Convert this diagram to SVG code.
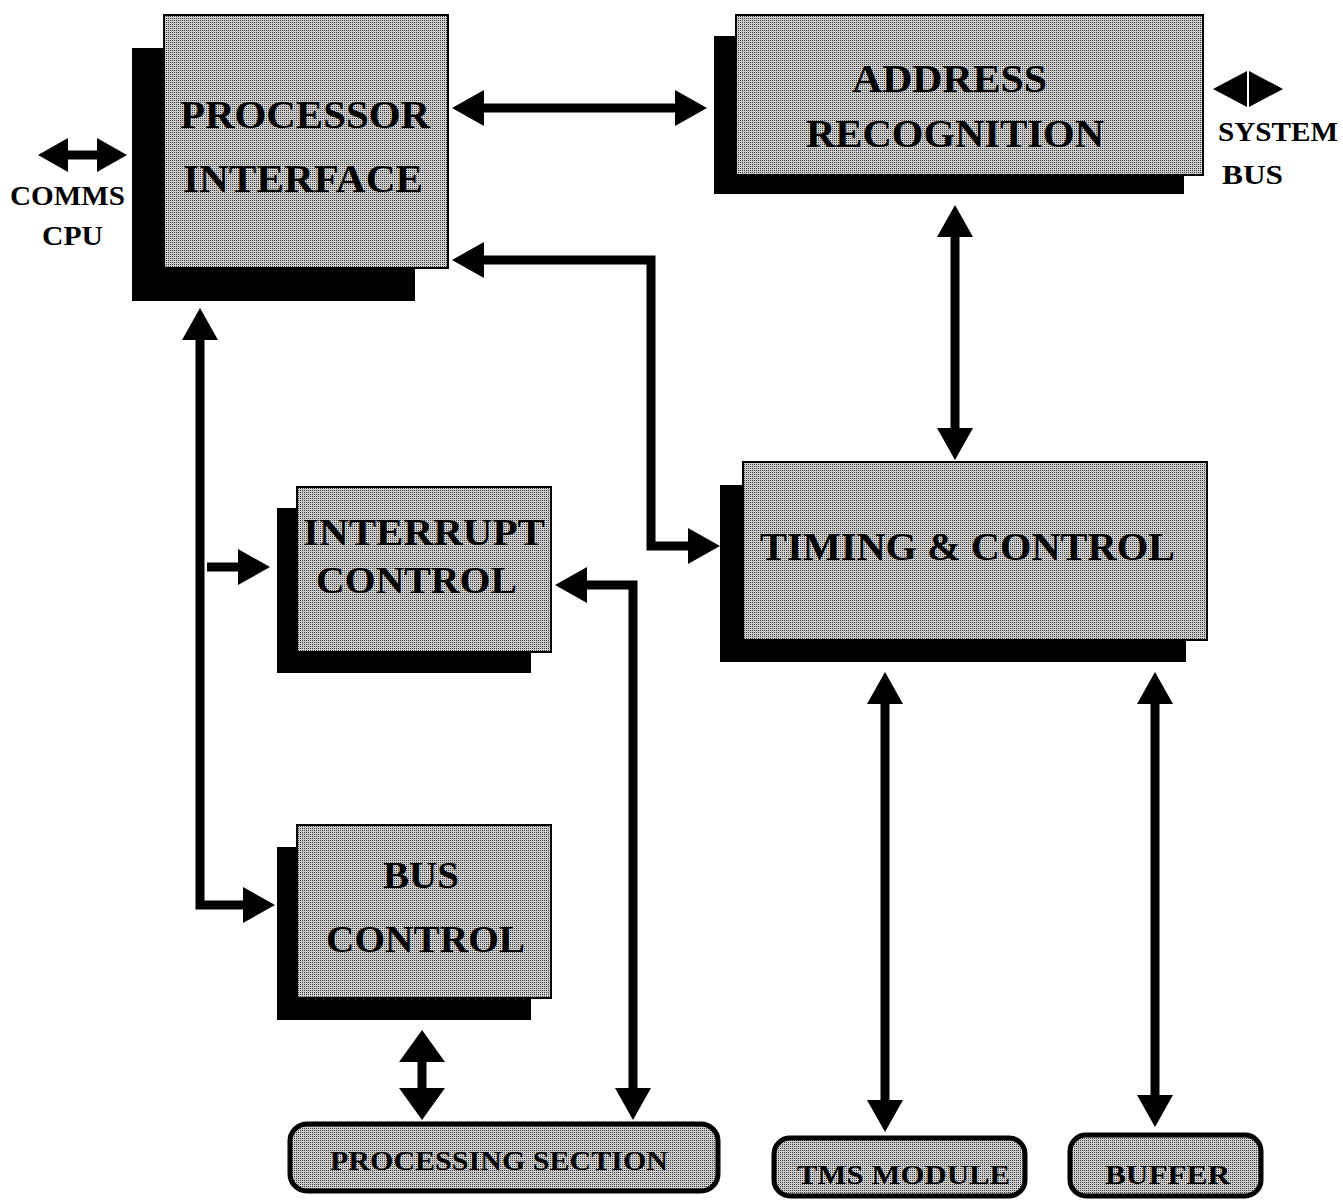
<svg xmlns="http://www.w3.org/2000/svg" width="1343" height="1202" viewBox="0 0 1343 1202">
<style>
.bg{fill:#ffffff}
.shadow{fill:#000000}
.box{fill:url(#dither);stroke:#000;stroke-width:2}
.rbox{fill:url(#dither);stroke:#000;stroke-width:5}
.t{font-family:"Liberation Serif","Times New Roman",serif;font-weight:bold;fill:#000}
.big{font-size:40px}
.mid{font-size:38px}
.sm{font-size:28px}
.xs{font-size:27px}
.con{fill:none;stroke:#000;stroke-width:9;stroke-linejoin:miter}
</style>
<defs>
<pattern id="dither" width="2" height="2" patternUnits="userSpaceOnUse">
<rect width="2" height="2" fill="#cccccc"/>
<rect width="1" height="1" fill="#404040"/>
</pattern>
<marker id="ah" markerUnits="userSpaceOnUse" viewBox="0 0 32 36" markerWidth="32" markerHeight="36" refX="2" refY="18" orient="auto-start-reverse">
<path d="M0,0 L32,18 L0,36 z" fill="#000"/>
</marker>
<marker id="ahs" markerUnits="userSpaceOnUse" viewBox="0 0 30 34" markerWidth="30" markerHeight="34" refX="2" refY="17" orient="auto-start-reverse">
<path d="M0,0 L30,17 L0,34 z" fill="#000"/>
</marker>
<marker id="ahb" markerUnits="userSpaceOnUse" viewBox="0 0 32 46" markerWidth="32" markerHeight="46" refX="2" refY="23" orient="auto-start-reverse">
<path d="M0,0 L32,23 L0,46 z" fill="#000"/>
</marker>
</defs>
<rect class="bg" width="1343" height="1202"/>

<g id="connectors">
<line class="con" x1="66" y1="155" x2="99" y2="155" stroke-width="6" marker-start="url(#ahs)" marker-end="url(#ahs)"/>
<line class="con" x1="482" y1="108" x2="677" y2="108" marker-start="url(#ah)" marker-end="url(#ah)"/>
<g id="sysbus-arrow">
<path d="M1213,89 L1247,71 L1247,107 z" fill="#000"/>
<path d="M1283,89 L1249,71 L1249,107 z" fill="#000"/>
</g>
<path class="con" d="M482,260 H651 V546 H690" marker-start="url(#ah)" marker-end="url(#ah)"/>
<line class="con" x1="955" y1="235" x2="955" y2="430" marker-start="url(#ah)" marker-end="url(#ah)"/>
<path class="con" d="M200,338 V905 H245" stroke-width="10" marker-start="url(#ah)" marker-end="url(#ah)"/>
<line class="con" x1="207" y1="567" x2="240" y2="567" marker-end="url(#ah)"/>
<path class="con" d="M585,585 H633 V1090" marker-start="url(#ah)" marker-end="url(#ah)"/>
<line class="con" x1="422" y1="1060" x2="422" y2="1090" stroke-width="14" marker-start="url(#ahb)" marker-end="url(#ahb)"/>
<line class="con" x1="885" y1="702" x2="885" y2="1102" marker-start="url(#ah)" marker-end="url(#ah)"/>
<line class="con" x1="1155" y1="702" x2="1155" y2="1097" marker-start="url(#ah)" marker-end="url(#ah)"/>
</g>

<g id="processor-interface">
<rect class="shadow" x="132" y="48" width="283" height="253"/>
<rect class="box" x="164" y="15" width="284" height="253"/>
<text class="t big" x="180" y="128" textLength="250" lengthAdjust="spacingAndGlyphs">PROCESSOR</text>
<text class="t big" x="183" y="192" textLength="240" lengthAdjust="spacingAndGlyphs">INTERFACE</text>
</g>

<g id="address-recognition">
<rect class="shadow" x="714" y="36" width="470" height="158"/>
<rect class="box" x="736" y="15" width="467" height="160"/>
<text class="t big" x="852" y="92" textLength="195" lengthAdjust="spacingAndGlyphs">ADDRESS</text>
<text class="t big" x="806" y="147" textLength="298" lengthAdjust="spacingAndGlyphs">RECOGNITION</text>
</g>

<g id="interrupt-control">
<rect class="shadow" x="277" y="508" width="254" height="165"/>
<rect class="box" x="297" y="487" width="254" height="165"/>
<text class="t mid" x="303" y="545" textLength="242" lengthAdjust="spacingAndGlyphs">INTERRUPT</text>
<text class="t mid" x="316" y="593" textLength="201" lengthAdjust="spacingAndGlyphs">CONTROL</text>
</g>

<g id="bus-control">
<rect class="shadow" x="277" y="847" width="254" height="173"/>
<rect class="box" x="297" y="825" width="254" height="173"/>
<text class="t mid" x="383" y="888" textLength="76" lengthAdjust="spacingAndGlyphs">BUS</text>
<text class="t mid" x="326" y="952" textLength="199" lengthAdjust="spacingAndGlyphs">CONTROL</text>
</g>

<g id="timing-control">
<rect class="shadow" x="720" y="485" width="466" height="177"/>
<rect class="box" x="743" y="462" width="464" height="178"/>
<text class="t big" x="760" y="560" textLength="415" lengthAdjust="spacingAndGlyphs">TIMING &amp; CONTROL</text>
</g>

<g id="processing-section">
<rect class="rbox" x="290" y="1124" width="428" height="67" rx="17"/>
<text class="t xs" x="330" y="1170" textLength="338" lengthAdjust="spacingAndGlyphs">PROCESSING SECTION</text>
</g>

<g id="tms-module">
<rect class="rbox" x="774" y="1138" width="251" height="58" rx="16"/>
<text class="t sm" x="797" y="1184" textLength="213" lengthAdjust="spacingAndGlyphs">TMS MODULE</text>
</g>

<g id="buffer">
<rect class="rbox" x="1070" y="1135" width="191" height="61" rx="16"/>
<text class="t sm" x="1105" y="1184" textLength="125" lengthAdjust="spacingAndGlyphs">BUFFER</text>
</g>

<g id="comms-cpu-label">
<text class="t sm" x="10" y="205" textLength="115" lengthAdjust="spacingAndGlyphs">COMMS</text>
<text class="t sm" x="42" y="245" textLength="61" lengthAdjust="spacingAndGlyphs">CPU</text>
</g>

<g id="system-bus-label">
<text class="t sm" x="1218" y="141" textLength="120" lengthAdjust="spacingAndGlyphs">SYSTEM</text>
<text class="t sm" x="1222" y="184" textLength="61" lengthAdjust="spacingAndGlyphs">BUS</text>
</g>
</svg>
